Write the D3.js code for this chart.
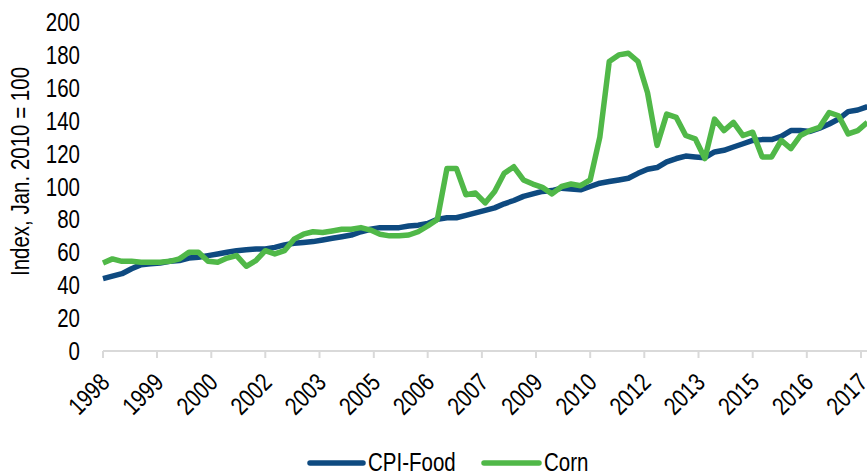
<!DOCTYPE html>
<html>
<head>
<meta charset="utf-8">
<script src="https://cdn.jsdelivr.net/npm/d3@7"></script>
<style>
  html, body { margin: 0; padding: 0; background: #fff; }
  svg { display: block; }
</style>
</head>
<body>
<svg id="chart" width="867" height="472"></svg>
<script>
// ---- DATA (quarterly observations starting Jan 1998) ----
const startDate = new Date(1998, 0, 1);
const cpiFood = [
  44, 45.5, 47, 50, 52.5, 53, 53.5, 54.5, 55, 56.5,
  57, 58, 59, 60, 61, 61.5, 62, 62, 63, 64.5,
  65.5, 66, 66.5, 67.5, 68.5, 69.5, 70.5, 72.5, 74, 75,
  75, 75, 76, 76.5, 77.5, 80, 81, 81, 82.5, 84,
  85.5, 87, 89.5, 91.5, 94, 95.5, 97, 97.5, 99, 98.5,
  98, 100, 102, 103, 104, 105, 108, 110.5, 111.5, 115,
  117, 118.5, 118, 117.5, 121, 122, 124, 126, 128, 128.5,
  128.5, 130.5, 134, 134, 133.5, 135.5, 138, 141, 145.5, 146.5,
  148.5
];
const corn = [
  53.5, 56, 54.5, 54.5, 54, 54, 54, 54.5, 56, 60,
  60, 54.5, 54, 56.5, 58, 51.5, 55, 61, 59, 61,
  68, 71, 72.5, 72, 73, 74, 74, 75, 73.5, 71,
  70, 70, 70.5, 72.5, 76, 80, 111, 111, 95, 96,
  90, 97, 108, 112, 104, 101.5, 99.5, 95.5, 100, 101.5,
  100.5, 104, 130, 176, 180, 181, 176, 157, 125, 144,
  142, 131, 129, 117, 141, 134, 139, 131, 133, 118,
  118, 128, 123, 131, 134, 136, 145, 143, 132, 134,
  139
];
const tickLabels = ["1998","1999","2000","2002","2003","2005","2006","2007",
                    "2009","2010","2012","2013","2015","2016","2017"];
const yTicks = [0, 20, 40, 60, 80, 100, 120, 140, 160, 180, 200];
const seriesNames = ["CPI-Food", "Corn"];
const seriesColors = ["#0e4a80", "#50b848"];
const yTitle = "Index, Jan. 2010 = 100";

// ---- FONT PICK (narrow look) ----
function hasFont(name) {
  const c = document.createElement("canvas").getContext("2d");
  const s = "Index, Jan. 2010 = 100 CPI-Food";
  c.font = "40px monospace"; const a = c.measureText(s).width;
  c.font = `40px "${name}", monospace`; const b = c.measureText(s).width;
  return Math.abs(a - b) > 0.5;
}
const narrow = hasFont("Liberation Sans Narrow");
const FONT = narrow ? '"Liberation Sans Narrow", sans-serif' : '"Liberation Sans", Arial, sans-serif';
const FS = 25;
const SX = narrow ? 1 : 0.82;   // horizontal condensing when no narrow face

// ---- SCALES ----
const dates = cpiFood.map((d, i) => d3.timeMonth.offset(startDate, 3 * i));
const endTick = d3.timeMonth.offset(startDate, 17 * (tickLabels.length - 1));
const x = d3.scaleTime().domain([startDate, endTick]).range([103, 861]);
const y = d3.scaleLinear().domain([0, 200]).range([351, 22]);
const tickDates = tickLabels.map((d, i) => d3.timeMonth.offset(startDate, 17 * i));

const svg = d3.select("#chart");

function txt(sel) {
  return sel.attr("font-family", FONT).attr("font-size", FS).attr("fill", "#000");
}

// ---- X AXIS ----
const xAxis = svg.append("g").attr("transform", `translate(0,${y(0)})`);
xAxis.append("line")
  .attr("x1", x(startDate)).attr("x2", 867)
  .attr("stroke", "#d9d9d9").attr("stroke-width", 2);
xAxis.selectAll("line.tick").data(tickDates).enter().append("line")
  .attr("class", "tick")
  .attr("x1", d => x(d)).attr("x2", d => x(d))
  .attr("y1", 0).attr("y2", 7)
  .attr("stroke", "#d9d9d9").attr("stroke-width", 2);
txt(xAxis.selectAll("text").data(tickDates).enter().append("text"))
  .attr("transform", d => `translate(${x(d) + 8},${33}) rotate(-45) scale(${SX},1)`)
  .attr("text-anchor", "end")
  .text((d, i) => tickLabels[i]);

// ---- Y AXIS ----
txt(svg.append("g").selectAll("text").data(yTicks).enter().append("text"))
  .attr("transform", d => `translate(80,${y(d)}) scale(${SX},1)`)
  .attr("dy", "0.36em")
  .attr("text-anchor", "end")
  .text(d => d);

txt(svg.append("text"))
  .attr("transform", `translate(29,${(y(0) + y(200)) / 2 - 15}) rotate(-90) scale(${SX},1)`)
  .attr("text-anchor", "middle")
  .text(yTitle);

// ---- LINES ----
const line = d3.line().x((d, i) => x(dates[i])).y(d => y(d));
[cpiFood, corn].forEach((s, k) => {
  svg.append("path").datum(s)
    .attr("d", line)
    .attr("fill", "none")
    .attr("stroke", seriesColors[k])
    .attr("stroke-width", 5.5)
    .attr("stroke-linejoin", "round")
    .attr("stroke-linecap", "butt");
});

// ---- LEGEND ----
const legendItems = [
  { name: seriesNames[0], color: seriesColors[0], x1: 310, x2: 363, tx: 368 },
  { name: seriesNames[1], color: seriesColors[1], x1: 484, x2: 539, tx: 544 }
];
const lg = svg.append("g");
legendItems.forEach(it => {
  lg.append("line").attr("x1", it.x1).attr("x2", it.x2)
    .attr("y1", 463).attr("y2", 463)
    .attr("stroke", it.color).attr("stroke-width", 5.5).attr("stroke-linecap", "round");
  txt(lg.append("text"))
    .attr("transform", `translate(${it.tx},471) scale(${SX},1)`)
    .text(it.name);
});
</script>
</body>
</html>
